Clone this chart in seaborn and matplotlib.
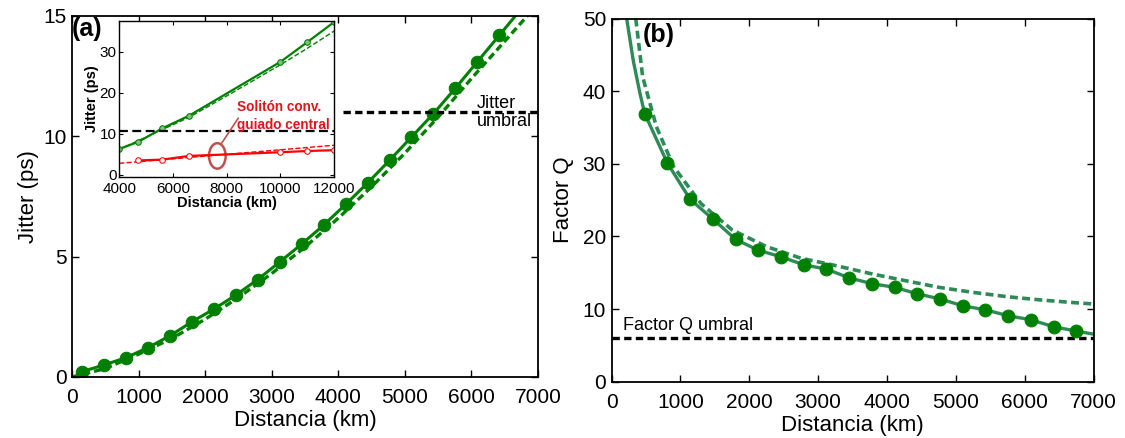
import matplotlib
matplotlib.use("Agg")
import matplotlib.pyplot as plt
import seaborn as sns
from matplotlib.patches import Ellipse

sns.set_style("ticks")
plt.rcParams["font.family"] = ["Liberation Sans", "DejaVu Sans"]
plt.rcParams.update({
    "text.color": "black",
    "axes.labelcolor": "black",
    "axes.edgecolor": "black",
    "xtick.color": "black",
    "ytick.color": "black",
})

# (a) jitter vs distance
dist_a = [150, 480, 810, 1140, 1470, 1800, 2130, 2460, 2790, 3120, 3450,
          3780, 4110, 4440, 4770, 5100, 5430, 5760, 6090, 6420, 6750]
jitter_a = [0.22, 0.50, 0.80, 1.22, 1.71, 2.29, 2.82, 3.40, 4.05, 4.78, 5.52,
            6.31, 7.17, 8.06, 9.00, 9.97, 10.94, 12.00, 13.10, 14.20, 15.30]
dist_a_dash = [0, 500, 1000, 1500, 2000, 2500, 3000, 3500, 4000, 4500, 5000,
               5500, 6000, 6500, 7000]
jitter_a_dash = [0.0, 0.35, 0.95, 1.6, 2.4, 3.3, 4.3, 5.4, 6.6, 7.9, 9.3,
                 10.8, 12.4, 13.95, 15.5]
jitter_umbral = 11.0
jitter_umbral_start = 4070

# inset of (a)
ins_dist_green = [4000, 4700, 5600, 6600, 10000, 11000, 12000]
ins_jit_green = [6.3, 8.0, 11.3, 14.4, 27.5, 32.3, 37.2]
ins_dist_green_dash = [4000, 5600, 6600, 8000, 10000, 11000, 12000]
ins_jit_green_dash = [6.2, 11.0, 14.0, 19.2, 26.8, 30.8, 35.0]
ins_dist_red = [4700, 5600, 6600, 10000, 11000, 12000]
ins_jit_red = [3.5, 3.7, 4.6, 5.5, 5.8, 6.0]
ins_dist_red_dash = [4000, 8000, 12000]
ins_jit_red_dash = [2.8, 5.0, 7.2]
ins_umbral = 10.6

# (b) Q factor vs distance
dist_b = [480, 810, 1140, 1470, 1800, 2130, 2460, 2790, 3120, 3450, 3780,
          4110, 4440, 4770, 5100, 5430, 5760, 6090, 6420, 6750]
q_b = [36.9, 30.1, 25.1, 22.4, 19.6, 18.1, 17.2, 16.1, 15.5, 14.3, 13.5,
       13.0, 12.1, 11.4, 10.45, 9.9, 9.08, 8.53, 7.57, 6.97]
dist_b_curve = [218, 314, 411] + dist_b + [7000]
q_b_curve = [50.0, 44.2, 39.7] + q_b + [6.55]
dist_b_dash = [350, 450, 650, 900, 1300, 1750, 2250, 2750, 3250, 3800, 4300,
               4750, 5250, 5750, 6250, 6700, 7000]
q_b_dash = [50.0, 42.0, 35.1, 29.6, 24.5, 20.9, 18.6, 17.0, 16.0, 14.8, 13.85,
            13.0, 12.3, 11.7, 11.24, 10.9, 10.7]
q_umbral = 6.0

green = "#008000"
sea = "#2e8b57"
dash_k = (0, (2.2, 1.3))

fig = plt.figure(figsize=(11.25, 4.38), dpi=100)
ax_a = fig.add_axes([0.064, 0.1393, 0.4142, 0.8242])
ax_b = fig.add_axes([0.5437, 0.1285, 0.4283, 0.8292])

# ---- panel (a)
sns.lineplot(x=dist_a_dash, y=jitter_a_dash, ax=ax_a, color=green, lw=2.4,
             linestyle=(0, (2.2, 1.2)))
sns.lineplot(x=dist_a, y=jitter_a, ax=ax_a, color=green, lw=2.2,
             marker="o", markersize=9, markeredgecolor=green)
ax_a.plot([jitter_umbral_start, 7000], [jitter_umbral, jitter_umbral],
          color="black", lw=2.4, linestyle=dash_k)
ax_a.text(6080, jitter_umbral, "Jitter\numbral", fontsize=13,
          ha="left", va="center", linespacing=1.05)
ax_a.set_xlim(0, 7000)
ax_a.set_ylim(0, 15)
ax_a.set_xticks(range(0, 7001, 1000))
ax_a.set_yticks([0, 5, 10, 15])
ax_a.set_xlabel("Distancia (km)", fontsize=16, labelpad=2)
ax_a.set_ylabel("Jitter (ps)", fontsize=16, labelpad=3)

# ---- panel (b)
sns.lineplot(x=dist_b_dash, y=q_b_dash, ax=ax_b, color=sea, lw=2.6,
             linestyle=(0, (2.2, 1.2)))
sns.lineplot(x=dist_b_curve, y=q_b_curve, ax=ax_b, color=sea, lw=2.4)
sns.scatterplot(x=dist_b, y=q_b, ax=ax_b, color=green, s=85,
                edgecolor=green, zorder=3)
ax_b.axhline(q_umbral, color="black", lw=2.4, linestyle=dash_k)
ax_b.text(165, q_umbral + 0.6, "Factor Q umbral", fontsize=13,
          ha="left", va="bottom")
ax_b.set_xlim(0, 7000)
ax_b.set_ylim(0, 50)
ax_b.set_xticks(range(0, 7001, 1000))
ax_b.set_yticks(range(0, 51, 10))
ax_b.set_xlabel("Distancia (km)", fontsize=16, labelpad=2)
ax_b.set_ylabel("Factor Q", fontsize=16, labelpad=6)

for ax in (ax_a, ax_b):
    ax.tick_params(direction="in", top=True, right=True, length=5,
                   width=1, labelsize=15, pad=4)
    ax.tick_params(axis="x", pad=8)
    for sp in ax.spines.values():
        sp.set_linewidth(1.3)
        sp.set_visible(True)

# ---- inset
ax_in = fig.add_axes([0.106, 0.5952, 0.1911, 0.3575])
sns.lineplot(x=ins_dist_green_dash, y=ins_jit_green_dash, ax=ax_in,
             color=green, lw=1, linestyle="--")
sns.lineplot(x=ins_dist_green, y=ins_jit_green, ax=ax_in, color=green, lw=1.6,
             marker="o", markersize=4, markerfacecolor="#7fc07f",
             markeredgecolor=green)
sns.lineplot(x=ins_dist_red_dash, y=ins_jit_red_dash, ax=ax_in,
             color="red", lw=1, linestyle="--")
sns.lineplot(x=ins_dist_red, y=ins_jit_red, ax=ax_in, color="red", lw=1.6,
             marker="o", markersize=4, markerfacecolor="white",
             markeredgecolor="red")
ax_in.axhline(ins_umbral, color="black", lw=1.6, linestyle=(0, (4, 2)))
ax_in.add_patch(Ellipse((7650, 4.6), 620, 6.2, angle=0, fill=False,
                        edgecolor="#c0504d", lw=1.8))
ax_in.plot([7810, 8430], [7.7, 13.8], color="#c0504d", lw=1.2)
ax_in.text(8370, 14.3, "Solitón conv.\nguiado central", color="#e3141b",
           fontsize=9.8, fontweight="bold", ha="left", va="center",
           linespacing=1.3)
ax_in.set_xlim(4000, 12000)
ax_in.set_ylim(-0.6, 37.5)
ax_in.set_xticks([4000, 6000, 8000, 10000, 12000])
ax_in.set_yticks([0, 10, 20, 30])
ax_in.tick_params(direction="in", top=True, right=True, length=3,
                  width=0.8, labelsize=11, pad=2)
ax_in.tick_params(axis="x", pad=3.5)
ax_in.set_xlabel("Distancia (km)", fontsize=10.5, fontweight="bold",
                 labelpad=0)
ax_in.set_ylabel("Jitter (ps)", fontsize=10.5, fontweight="bold", labelpad=0)
for sp in ax_in.spines.values():
    sp.set_linewidth(1)

fig.text(0.064, 0.962, "(a)", fontsize=18, fontweight="bold",
         ha="left", va="top")
fig.text(0.5716, 0.948, "(b)", fontsize=18, fontweight="bold",
         ha="left", va="top")

fig.savefig("out.png", dpi=100)
